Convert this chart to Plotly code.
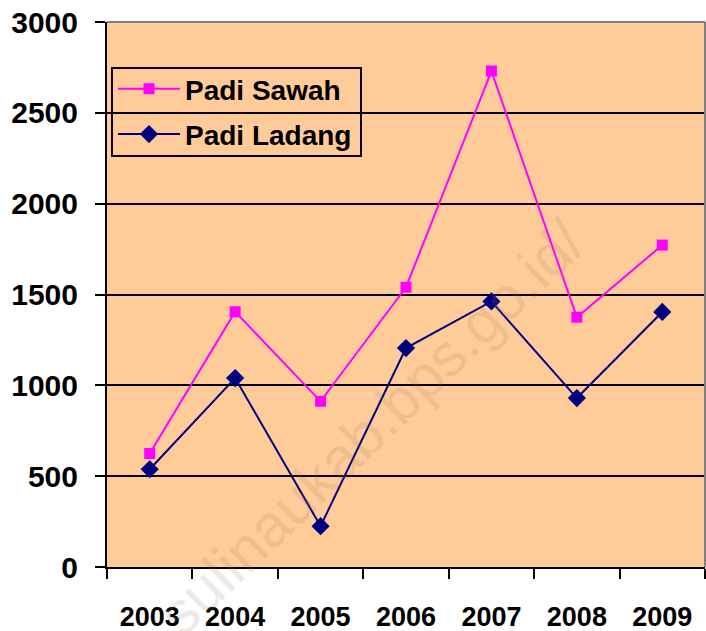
import plotly.graph_objects as go

years = ["2003", "2004", "2005", "2006", "2007", "2008", "2009"]
padi_sawah = [625, 1405, 912, 1540, 2730, 1375, 1772]
padi_ladang = [538, 1040, 225, 1205, 1462, 930, 1404]
y_ticks = [0, 500, 1000, 1500, 2000, 2500, 3000]

fig = go.Figure()
fig.add_trace(go.Scatter(
    x=years, y=padi_sawah, name="Padi Sawah", mode="lines+markers",
    legendgroup="a",
    line=dict(color="#FF00FF", width=2),
    marker=dict(symbol="square", size=11, color="#FF00FF"),
))
fig.add_trace(go.Scatter(
    x=years, y=padi_ladang, name="Padi Ladang", mode="lines+markers",
    legendgroup="b",
    line=dict(color="#000080", width=2),
    marker=dict(symbol="diamond", size=14, color="#000080"),
))

font_family = "Liberation Sans, Arial, sans-serif"

# plot area in screen pixels
PL, PR, PT, PB = 107, 705, 22, 567
pw, ph = PR - PL, PB - PT

def px(x):
    return (x - PL) / pw

def py(y):
    return (PB - y) / ph

fig.update_layout(
    width=706, height=631,
    margin=dict(l=PL, r=706 - PR, t=PT, b=631 - PB),
    paper_bgcolor="white",
    plot_bgcolor="#FFCC99",
    font=dict(family=font_family, color="black"),
    showlegend=True,
    legend=dict(
        x=px(113), y=py(64), xanchor="left", yanchor="top",
        bgcolor="rgba(0,0,0,0)", borderwidth=0,
        font=dict(size=28, family=font_family, color="black", weight="bold"),
        tracegroupgap=6, traceorder="grouped", itemwidth=62,
    ),
    xaxis=dict(
        type="category", range=[-0.5, 6.5], automargin=False,
        tickson="boundaries", ticks="outside", ticklen=10, tickwidth=2, tickcolor="black",
        showline=True, linecolor="black", linewidth=2,
        showgrid=False, zeroline=False,
        tickfont=dict(size=27, family=font_family, weight="bold"),
        ticklabelstandoff=25,
    ),
    yaxis=dict(
        range=[0, 3000], tickvals=y_ticks, automargin=False,
        ticks="outside", ticklen=10, tickwidth=2, tickcolor="black",
        showline=True, linecolor="black", linewidth=2,
        showgrid=True, gridcolor="black", gridwidth=2, zeroline=False,
        tickfont=dict(size=30, family=font_family, weight="bold"),
        ticklabelstandoff=11, ticklabeloverflow="allow",
    ),
)

# legend box
fig.add_shape(type="rect", xref="paper", yref="paper",
              x0=px(112), x1=px(361), y0=py(156), y1=py(68),
              fillcolor="#FFCC99", line=dict(color="black", width=2), layer="between")

# gray top and right border of the plot area
fig.add_shape(type="line", xref="paper", yref="paper", x0=0, x1=1, y0=1, y1=1,
              line=dict(color="#808080", width=2))
fig.add_shape(type="line", xref="paper", yref="paper", x0=1, x1=1, y0=0, y1=1,
              line=dict(color="#808080", width=2))

# faint watermark
fig.add_annotation(
    text="sulinaukab.bps.go.id/", xref="paper", yref="paper",
    x=px(372), y=py(428), showarrow=False,
    xanchor="center", yanchor="middle",
    textangle=-44, font=dict(size=60, family=font_family, color="rgba(150,120,90,0.16)"),
)

fig.write_html(
    "out.html",
    config={"displayModeBar": False},
    post_script="document.body.style.margin='0px';document.body.style.overflow='hidden';",
)
